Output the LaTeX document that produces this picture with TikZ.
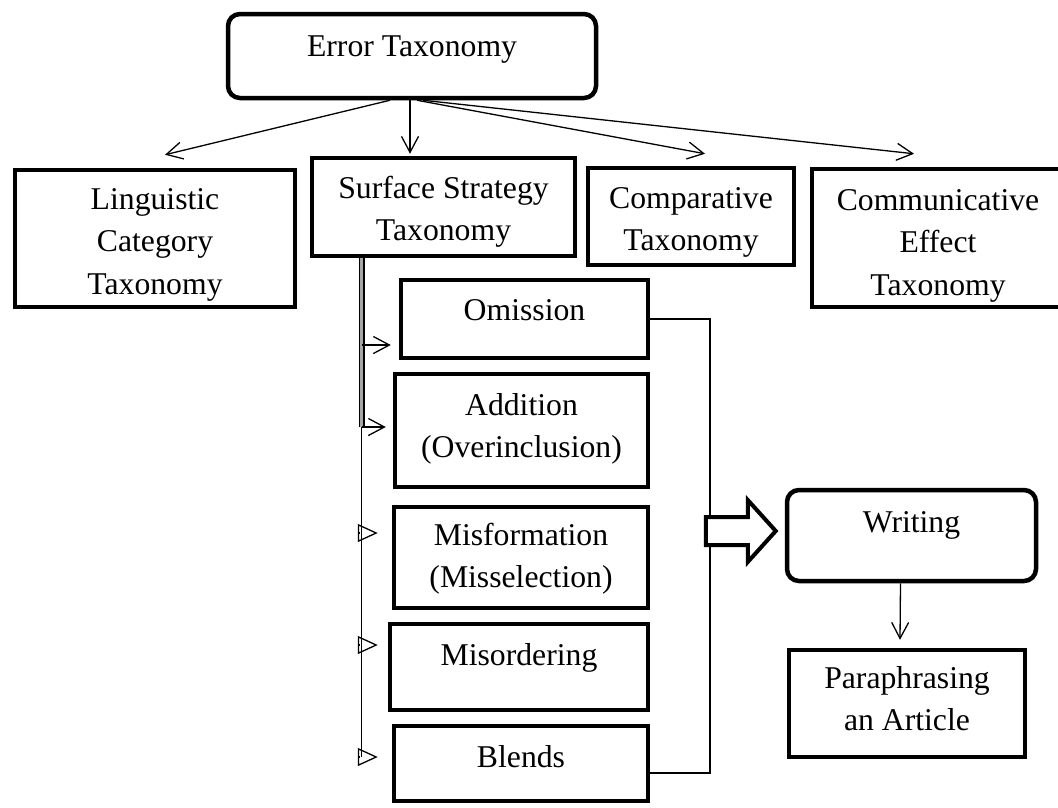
\documentclass[tikz,border=0pt]{standalone}
\usepackage{fontspec}
\setmainfont{Liberation Serif}
\usetikzlibrary{arrows.meta, calc}

% text set at the top of a box of fixed size
\newcommand{\boxtext}[4][40pt]{\parbox[c][#3][t]{#2}{\centering\rule{0pt}{#1}#4}}

\tikzset{
  tbox/.style={draw, line width=4.5pt, inner sep=0pt},
  rbox/.style={tbox, rounded corners=12pt},
  barb/.style={-{Straight Barb[length=16pt, width=17pt]}, line width=1.3pt},
  tri/.style={-{Triangle[open, length=20pt, width=18pt]}, line width=1.3pt}
}

\begin{document}
\begin{tikzpicture}[x=1pt, y=-1pt, font=\fontsize{31.7}{42.5}\selectfont]
\useasboundingbox (0,0) rectangle (1058,807);

\node (err) at (412, 56) [rbox] {\boxtext[42pt]{368pt}{84pt}{Error Taxonomy}};
\node (ling) at (155, 238.5) [tbox] {\boxtext[39pt]{280pt}{137pt}{Linguistic\\Category\\Taxonomy}};
\node (surf) at (443.5, 207) [tbox] {\boxtext{263pt}{98pt}{Surface Strategy\\Taxonomy}};
\node (comp) at (691, 216.5) [tbox] {\boxtext{206pt}{97pt}{Comparative\\Taxonomy}};
\node (comm) at (938, 238) [tbox] {\boxtext[41pt]{252pt}{138pt}{Communicative\\Effect\\Taxonomy}};

\node (omi) at (524.5, 319) [tbox] {\boxtext{247pt}{78pt}{Omission}};
\node (add) at (521.5, 430.5) [tbox] {\boxtext[41pt]{253pt}{113pt}{Addition\\(Overinclusion)}};
\node (misf) at (521, 557.5) [tbox] {\boxtext[38pt]{254pt}{101pt}{Misformation\\(Misselection)}};
\node (miso) at (519, 667) [tbox] {\boxtext[41pt]{258pt}{86pt}{Misordering}};
\node (blend) at (521, 763.5) [tbox] {\boxtext[41pt]{254pt}{75pt}{Blends}};

\node (writ) at (911.5, 535.5) [rbox] {\boxtext[42pt]{249pt}{91pt}{Writing}};
\node (para) at (907, 703.5) [tbox] {\boxtext[38pt]{236pt}{107pt}{Paraphrasing\\an Article}};

% from the top box
\draw[barb] ([xshift=-22pt]err.south) -- ([xshift=10pt, yshift=13pt]ling.north);
\draw[barb] ([xshift=-2pt]err.south) -- ([xshift=-33.5pt, yshift=2pt]surf.north);
\draw[barb] ([xshift=5pt]err.south) -- ([xshift=14pt, yshift=12pt]comp.north);
\draw[barb] ([xshift=11pt]err.south) -- ([xshift=-24pt, yshift=13pt]comm.north);

% trunk under Surface Strategy Taxonomy
\coordinate (t0) at ($(surf.south west)+(52,0)$);
\coordinate (t2) at ([yshift=3.5pt]add.west -| t0);
\coordinate (t5) at ([yshift=6.5pt]blend.west -| t0);
\draw[line width=1.3pt] (t2) -- (t5);
\draw[line width=1.3pt, double=gray!70, double distance=3pt] (t0) -- (t2);

\draw[barb] ([yshift=-26pt]omi.west -| t0) -- ([yshift=-26pt, xshift=-8pt]omi.west);
\draw[barb] (t2) -- ([yshift=3.5pt, xshift=-7pt]add.west);
\draw[tri] ([yshift=24.5pt, xshift=-2pt]misf.west -| t0) -- ([yshift=24.5pt, xshift=-14pt]misf.west);
\draw[tri] ([yshift=22pt, xshift=-2pt]miso.west -| t0) -- ([yshift=22pt, xshift=-10pt]miso.west);
\draw[tri] ([xshift=-2pt]t5) -- ([yshift=6.5pt, xshift=-14pt]blend.west);

% bracket and block arrow to Writing
\coordinate (bx) at ($(omi.east)+(60,0)$);
\coordinate (be) at ([yshift=-9.5pt]blend.east);
\draw[line width=1.8pt] (omi.east) -- (bx) -- (bx |- be) -- (be);
\coordinate (ha) at ($(writ.west)+(-79,-4.5)$);
\draw[line width=4pt, fill=white, line join=miter] ($(ha)+(0,-14)$) -- ($(ha)+(42,-14)$) -- ($(ha)+(42,-31)$) -- ($(ha)+(70,0)$) -- ($(ha)+(42,31)$) -- ($(ha)+(42,14)$) -- ($(ha)+(0,14)$) -- cycle;

\draw[barb] ([xshift=-11pt]writ.south) -- ([xshift=-7pt, yshift=8pt]para.north);
\end{tikzpicture}
\end{document}
